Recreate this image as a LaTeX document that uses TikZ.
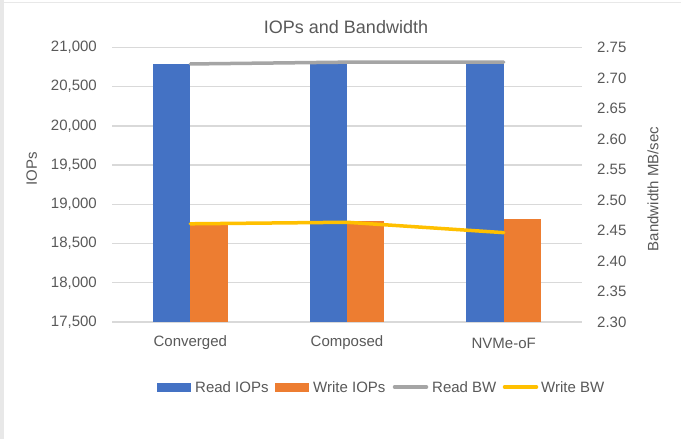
\documentclass[tikz,border=0pt]{standalone}
\usepackage{fontspec}
\setmainfont{Liberation Sans}

\definecolor{readiops}{HTML}{4472C4}
\definecolor{writeiops}{HTML}{ED7D31}
\definecolor{readbw}{HTML}{A5A5A5}
\definecolor{writebw}{HTML}{FFC000}
\definecolor{gridcol}{HTML}{D9D9D9}
\definecolor{axistext}{HTML}{595959}
\definecolor{framegray}{HTML}{E8E8E8}

% plot area: x from 112 to 582, y from 47.5 (top) to 322 (baseline)
% left axis 17,500..21,000 (7 steps), right axis 2.30..2.75 (9 steps)
\newcommand{\iopsy}[1]{322-(#1)/500*39.214}   % argument: IOPs minus 17,500
\newcommand{\bwy}[1]{322-((#1)-2.30)/0.05*30.5}

\tikzset{
  ticklabel/.style={font=\fontsize{15}{18}\selectfont, text=axistext, inner sep=0pt},
  catlabel/.style={ticklabel},
  axistitle/.style={ticklabel, rotate=90},
  legendtext/.style={ticklabel, anchor=west},
  gridline/.style={draw=gridcol, line width=1.3pt},
  seriesline/.style={line width=3.5pt, line cap=round, line join=round},
}

\begin{document}
\begin{tikzpicture}[x=1pt, y=-1pt]
  \useasboundingbox (0,0) rectangle (681,439);
  \fill[white] (0,0) rectangle (681,439);
  % chart frame
  \fill[framegray] (0,0) rectangle (4,439);
  \draw[framegray, line width=1pt] (0,2.5) -- (681,2.5);

  % title
  \node[ticklabel, font=\fontsize{18}{21}\selectfont] (title) at (346,27) {IOPs and Bandwidth};

  % horizontal gridlines with left-axis labels
  \foreach \lab [count=\i from 0] in {{21,000},{20,500},{20,000},{19,500},{19,000},{18,500},{18,000},{17,500}} {
    \draw[gridline] (112,{47.5+\i*39.214}) -- (582,{47.5+\i*39.214});
    \node[ticklabel, anchor=east] (yl\i) at (97,{47.5+\i*39.214}) {\lab};
  }
  % right-axis labels
  \foreach \lab [count=\i from 0] in {2.75,2.70,2.65,2.60,2.55,2.50,2.45,2.40,2.35,2.30} {
    \node[ticklabel, anchor=west] (yr\i) at (597,{47.5+\i*30.5}) {\lab};
  }

  % bars: centre / read IOPs / write IOPs (values above 17,500)
  \foreach \c/\r/\w [count=\k] in {190.3/3293/1255, 347/3295/1286, 503.7/3295/1312} {
    \fill[readiops] ({\c-37.3},{\iopsy{\r}}) rectangle (\c,322);
    \fill[writeiops] (\c,{\iopsy{\w}}) rectangle ({\c+37.3},322);
  }

  % bandwidth series
  \coordinate (rbw1) at (190.3,{\bwy{2.723}});
  \coordinate (rbw2) at (347,{\bwy{2.726}});
  \coordinate (rbw3) at (503.7,{\bwy{2.726}});
  \coordinate (wbw1) at (190.3,{\bwy{2.461}});
  \coordinate (wbw2) at (347,{\bwy{2.4635}});
  \coordinate (wbw3) at (503.7,{\bwy{2.4465}});
  \draw[seriesline, readbw] (rbw1) -- (rbw2) -- (rbw3);
  \draw[seriesline, writebw] (wbw1) -- (wbw2) -- (wbw3);

  % category labels
  \node[catlabel] (cat1) at (190.3,343) {Converged};
  \node[catlabel] (cat2) at (347,343) {Composed};
  \node[catlabel] (cat3) at (503.7,343) {NVMe-oF};

  % axis titles
  \node[axistitle] (ylabel) at (31.7,168.5) {IOPs};
  \node[axistitle] (y2label) at (653,189) {Bandwidth MB/sec};

  % legend
  \fill[readiops] (157,382.5) rectangle (191,391.5);
  \node[legendtext] (lg1) at (195,387) {Read IOPs};
  \fill[writeiops] (275,382.5) rectangle (309,391.5);
  \node[legendtext] (lg2) at (313,387) {Write IOPs};
  \coordinate (lgr1) at (394.5,387);
  \coordinate (lgr2) at (426.5,387);
  \draw[seriesline, readbw] (lgr1) -- (lgr2);
  \node[legendtext] (lg3) at (432,387) {Read BW};
  \coordinate (lgw1) at (504.5,387);
  \coordinate (lgw2) at (536.5,387);
  \draw[seriesline, writebw] (lgw1) -- (lgw2);
  \node[legendtext] (lg4) at (541,387) {Write BW};
\end{tikzpicture}
\end{document}
